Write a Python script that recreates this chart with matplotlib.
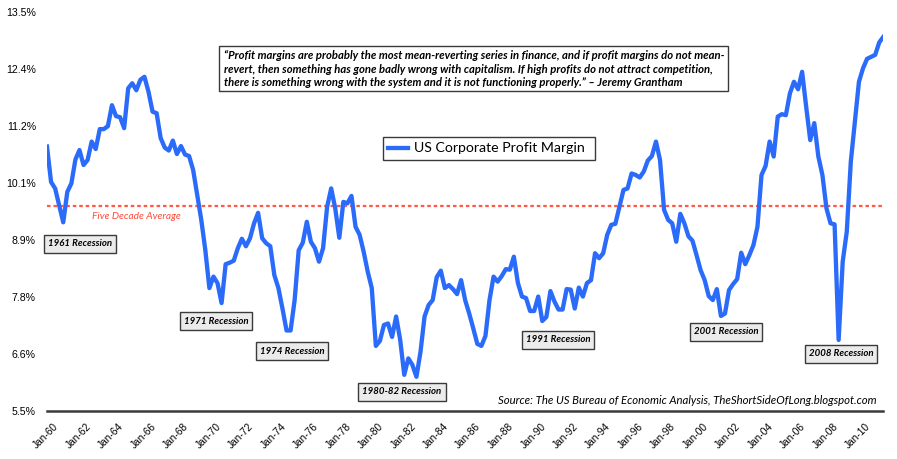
import matplotlib
matplotlib.use("Agg")
import matplotlib.pyplot as plt
import matplotlib.transforms as mtransforms
from matplotlib.patches import Rectangle
import numpy as np

# ---------------- data ----------------
# quarter offset since 1960Q1 and corporate profit margin (%)
quarters = [0, 1, 2, 4, 5, 6, 7, 8, 9, 10, 11, 12, 13, 14, 15, 16, 17, 18, 19, 20,
            21, 22, 23, 24, 25, 26, 27, 28, 29, 30, 31, 32, 33, 34, 35, 36, 38, 39, 40, 41,
            42, 43, 44, 45, 46, 47, 48, 49, 50, 51, 52, 53, 54, 55, 56, 57, 58, 59, 60, 61,
            62, 63, 64, 65, 66, 67, 68, 69, 70, 71, 72, 73, 74, 75, 76, 77, 78, 79, 80, 81,
            82, 83, 84, 85, 86, 87, 88, 89, 90, 91, 92, 93, 94, 95, 96, 97, 98, 99, 100, 101,
            102, 103, 104, 105, 106, 107, 108, 109, 110, 111, 112, 113, 114, 115, 116, 117, 118, 119, 120, 121,
            122, 123, 124, 125, 126, 127, 128, 129, 130, 131, 132, 133, 134, 135, 136, 137, 138, 139, 140, 141,
            142, 143, 144, 145, 146, 147, 148, 149, 150, 151, 152, 153, 154, 155, 156, 157, 158, 159, 160, 161,
            162, 163, 164, 165, 166, 167, 168, 169, 170, 171, 172, 173, 174, 175, 176, 177, 178, 179, 180, 181,
            182, 183, 184, 185, 186, 187, 188, 189, 190, 191, 192, 193, 194, 195, 196, 197, 198, 199, 200, 201,
            202, 203, 204, 205, 206]
margin = [10.80, 10.09, 9.96, 9.28, 9.89, 10.06, 10.54, 10.73, 10.43, 10.53, 10.90, 10.75, 11.15, 11.15, 11.21, 11.63, 11.41, 11.39, 11.17, 11.97,
          12.07, 11.93, 12.14, 12.20, 11.90, 11.50, 11.47, 10.97, 10.78, 10.72, 10.92, 10.65, 10.81, 10.64, 10.61, 10.33, 9.33, 8.72, 7.96, 8.19,
          8.06, 7.66, 8.44, 8.47, 8.51, 8.76, 8.95, 8.80, 8.96, 9.26, 9.47, 8.96, 8.86, 8.80, 8.22, 7.96, 7.55, 7.11, 7.11, 7.72,
          8.72, 8.87, 9.29, 8.89, 8.76, 8.49, 8.76, 9.59, 9.96, 9.56, 8.97, 9.69, 9.66, 9.81, 9.19, 9.03, 8.69, 8.29, 7.96, 6.80,
          6.90, 7.22, 7.25, 6.98, 7.39, 6.92, 6.22, 6.55, 6.42, 6.18, 6.68, 7.39, 7.62, 7.72, 8.18, 8.31, 7.96, 8.02, 7.94, 7.84,
          8.12, 7.72, 7.45, 7.15, 6.84, 6.80, 7.00, 7.72, 8.19, 8.09, 8.20, 8.34, 8.33, 8.59, 8.06, 7.79, 7.76, 7.50, 7.50, 7.79,
          7.30, 7.38, 7.90, 7.69, 7.53, 7.53, 7.94, 7.93, 7.55, 7.97, 7.79, 8.06, 8.12, 8.66, 8.56, 8.66, 9.03, 9.23, 9.25, 9.59,
          9.93, 9.96, 10.26, 10.23, 10.18, 10.30, 10.52, 10.61, 10.90, 10.53, 9.53, 9.33, 9.26, 8.89, 9.45, 9.26, 9.00, 8.91, 8.62, 8.32,
          8.12, 7.80, 7.72, 7.94, 7.40, 7.45, 7.92, 8.04, 8.14, 8.67, 8.44, 8.62, 8.82, 9.19, 10.23, 10.41, 10.90, 10.60, 11.40, 11.45,
          11.43, 11.87, 12.10, 11.95, 12.30, 11.60, 10.93, 11.27, 10.60, 10.23, 9.56, 9.26, 9.24, 6.92, 8.49, 9.09, 10.50, 11.30, 12.10, 12.37,
          12.56, 12.60, 12.64, 12.89, 13.00]
average_margin = 9.61

ytick_values = list(np.linspace(5.5, 13.5, 8))
xtick_years = list(range(1960, 2011, 2))
xtick_labels = ["Jan-%02d" % (y % 100) for y in xtick_years]

recession_labels = ["1961 Recession", "1971 Recession", "1974 Recession", "1980-82 Recession",
                    "1991 Recession", "2001 Recession", "2008 Recession"]
series_name = "US Corporate Profit Margin"
average_label = "Five Decade Average"
source_text = "Source: The US Bureau of Economic Analysis, TheShortSideOfLong.blogspot.com"
quote_lines = [
    "\u201cProfit margins are probably the most mean-reverting series in finance, and if profit margins do not mean-",
    "revert, then something has gone badly wrong with capitalism. If high profits do not attract competition,",
    "there is something wrong with the system and it is not functioning properly.\u201d \u2013 Jeremy Grantham",
]

# ---------------- layout ----------------
W, H = 897, 459
fig = plt.figure(figsize=(W / 100, H / 100), dpi=100)
ax_l, ax_r, ax_t, ax_b = 47, 883.3, 12, 410.7
ax = fig.add_axes([ax_l / W, 1 - ax_b / H, (ax_r - ax_l) / W, (ax_b - ax_t) / H])

def px2ax(x, y):
    return ((x - ax_l) / (ax_r - ax_l), (ax_b - y) / (ax_b - ax_t))

years = [1960 + q / 4 for q in quarters]
blue = "#2B6BFA"
ax.plot(years, margin, color=blue, lw=3.1, solid_joinstyle="round", zorder=3)
ax.axhline(average_margin, color="#FF5A48", lw=1.6, linestyle=(0, (1.6, 1.3)), zorder=2)

ax.set_xlim(1960, 2011.5)
ax.set_ylim(5.5, 13.5)

for s in ["top", "right", "left"]:
    ax.spines[s].set_visible(False)
ax.spines["bottom"].set_color("#3a3a3a")
ax.spines["bottom"].set_linewidth(1.8)

font_tick = "Liberation Sans"
ax.set_yticks(ytick_values)
ax.set_yticklabels(["%.1f%%" % v for v in ytick_values], fontsize=7.6, family=font_tick)
ax.tick_params(axis="y", length=0, pad=8)
ax.set_xticks(xtick_years)
ax.set_xticklabels(xtick_labels, fontsize=7.3, family=font_tick)
ax.tick_params(axis="x", length=0, pad=10)
shift = mtransforms.ScaledTranslation(10 / 100, 0, fig.dpi_scale_trans)
for lab in ax.get_xticklabels():
    lab.set_rotation(45)
    lab.set_ha("right")
    lab.set_va("center")
    lab.set_rotation_mode("anchor")
    lab.set_transform(lab.get_transform() + shift)

# ---------------- annotations ----------------
label_font = ["Lato", "DejaVu Sans"]
rec_pos = [(80, 244), (216, 321), (292, 351), (402, 392), (558, 340), (726, 332), (841, 354)]
rec_texts = []
for name, (px, py) in zip(recession_labels, rec_pos):
    axp = px2ax(px, py)
    t = ax.text(axp[0], axp[1], name, transform=ax.transAxes, ha="center", va="center",
                fontsize=7.6, fontweight="bold", fontstyle="italic", family=label_font,
                bbox=dict(boxstyle="square,pad=0.42", fc="#ebebeb", ec="#3a3a3a", lw=1.0), zorder=5)
    rec_texts.append(t)

p = px2ax(136, 217)
avg_t = ax.text(p[0], p[1], average_label, transform=ax.transAxes, ha="center", va="center",
                fontsize=7.6, fontstyle="italic", color="#FF4A3A", family=label_font)

p = px2ax(877, 400)
src_t = ax.text(p[0], p[1], source_text, transform=ax.transAxes, ha="right", va="center",
                fontsize=8.2, fontstyle="italic", color="black", family=label_font)

# quote box
x0, y0 = px2ax(219, 91)
x1, y1 = px2ax(728, 46)
ax.add_patch(Rectangle((x0, y0), x1 - x0, y1 - y0, transform=ax.transAxes, fc="white",
                       ec="#3a3a3a", lw=1.0, zorder=4))
quote_texts = []
for line, py in zip(quote_lines, [56, 69.5, 83]):
    p = px2ax(224, py)
    t = ax.text(p[0], p[1], line, transform=ax.transAxes, ha="left", va="center",
                fontsize=7.4, fontweight="bold", fontstyle="italic", family=label_font, zorder=5)
    quote_texts.append(t)

# legend box
x0, y0 = px2ax(383, 160)
x1, y1 = px2ax(595, 137)
ax.add_patch(Rectangle((x0, y0), x1 - x0, y1 - y0, transform=ax.transAxes, fc="white",
                       ec="#3a3a3a", lw=1.0, zorder=4))
la, lb = px2ax(388, 148.5), px2ax(408, 148.5)
ax.plot([la[0], lb[0]], [la[1], lb[1]], transform=ax.transAxes, color=blue, lw=3.1, zorder=5)
p = px2ax(414, 148.5)
leg_t = ax.text(p[0], p[1], series_name, transform=ax.transAxes, ha="left", va="center",
                fontsize=10, family=label_font, zorder=5)

# fit text widths to reference
fig.canvas.draw()
rend = fig.canvas.get_renderer()

def fit(t, target):
    w = t.get_window_extent(rend).width
    t.set_fontsize(t.get_fontsize() * target / w)

fit(quote_texts[0], 498)
for t in quote_texts[1:]:
    t.set_fontsize(quote_texts[0].get_fontsize())
fit(src_t, 378)
fit(leg_t, 172)
fit(avg_t, 88)
fit(rec_texts[0], 64)
for t in rec_texts[1:]:
    t.set_fontsize(rec_texts[0].get_fontsize())

fig.savefig("out.png", dpi=100)
